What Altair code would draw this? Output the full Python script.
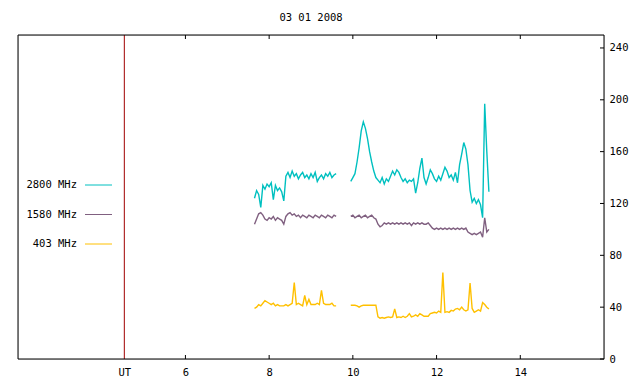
import altair as alt
import pandas as pd

# time axis (UT hours) of the two observing segments
t_seg1 = [7.65, 7.70, 7.75, 7.80, 7.85, 7.90, 7.95, 8.00, 8.05, 8.10,
          8.15, 8.20, 8.25, 8.30, 8.35, 8.40, 8.45, 8.50, 8.55, 8.60,
          8.65, 8.70, 8.75, 8.80, 8.85, 8.90, 8.95, 9.00, 9.05, 9.10,
          9.15, 9.20, 9.25, 9.30, 9.35, 9.40, 9.45, 9.50, 9.55, 9.60]
t_seg2 = [9.95, 10.00, 10.05, 10.10, 10.15, 10.20, 10.25, 10.30, 10.35, 10.40,
          10.45, 10.50, 10.55, 10.60, 10.65, 10.70, 10.75, 10.80, 10.85, 10.90,
          10.95, 11.00, 11.05, 11.10, 11.15, 11.20, 11.25, 11.30, 11.35, 11.40,
          11.45, 11.50, 11.55, 11.60, 11.65, 11.70, 11.75, 11.80, 11.85, 11.90,
          11.95, 12.00, 12.05, 12.10, 12.15, 12.20, 12.25, 12.30, 12.35, 12.40,
          12.45, 12.50, 12.55, 12.60, 12.65, 12.70, 12.75, 12.80, 12.85, 12.90,
          12.95, 13.00, 13.05, 13.10, 13.15, 13.20, 13.25]

f2800_seg1 = [124, 130, 127, 117, 134, 131, 135, 133, 136, 123,
              134, 130, 132, 129, 122, 141, 144, 140, 145, 141,
              143, 139, 142, 144, 140, 142, 139, 143, 140, 144,
              137, 140, 142, 139, 143, 141, 144, 140, 142, 143]
f2800_seg2 = [137, 140, 143, 152, 163, 176, 183, 178, 170, 160,
              152, 145, 140, 138, 136, 140, 135, 139, 137, 141,
              145, 142, 146, 144, 140, 137, 139, 136, 138, 137,
              139, 128, 136, 147, 155, 140, 135, 140, 146, 143,
              139, 137, 141, 138, 143, 148, 145, 140, 142, 138,
              144, 136, 150, 158, 167, 162, 150, 130, 121, 124,
              120, 123, 119, 109, 197, 160, 129]

f1580_seg1 = [104, 108, 112, 113, 111, 108, 107, 109, 108, 110,
              107, 109, 108, 107, 104, 110, 112, 113, 111, 112,
              110, 111, 109, 111, 110, 109, 111, 110, 109, 111,
              110, 109, 111, 110, 109, 111, 110, 109, 111, 110]
f1580_seg2 = [110, 111, 109, 110, 111, 109, 110, 111, 109, 110,
              111, 109, 108, 104, 102, 103, 105, 104, 105, 104,
              105, 104, 105, 104, 105, 104, 105, 104, 105, 103,
              105, 104, 105, 104, 105, 104, 104, 105, 103, 101,
              100, 101, 100, 101, 100, 101, 100, 101, 100, 101,
              100, 101, 100, 101, 100, 101, 98, 97, 96, 97,
              96, 97, 98, 94, 109, 98, 100]

f403_seg1 = [39, 40, 42, 41, 43, 45, 44, 43, 42, 43,
             41, 42, 41, 41, 41, 42, 41, 42, 43, 59,
             42, 43, 42, 41, 49, 42, 46, 42, 42, 42,
             43, 42, 53, 43, 42, 42, 42, 43, 41, 41]
f403_seg2 = [41.5, 41.5, 41.5, 41, 40, 41, 41.5, 41.5, 41.5, 41.5,
             41.5, 41.5, 41.5, 32.5, 31.5, 32, 31.5, 32, 32.5, 32,
             32.5, 38.7, 32, 32.5, 32, 33, 32, 33, 35, 32.5,
             33, 34, 33, 35, 34, 33, 33, 33, 35, 35.5,
             36, 35.5, 37, 36, 66.8, 36, 36.5, 36, 37.5, 37,
             38.5, 39, 38, 40, 38, 37, 38, 58.6, 39, 36,
             37, 38, 37, 43.5, 42, 40, 38.5]

series_names = ["2800 MHz", "1580 MHz", "403 MHz"]
series_colors = ["#00c0c0", "#806080", "#ffc000"]
x_ticks = [6, 8, 10, 12, 14]
y_ticks = [0, 40, 80, 120, 160, 200, 240]
ut_marker = [4.54]

rows = []
for name, s1, s2 in [("2800 MHz", f2800_seg1, f2800_seg2),
                     ("1580 MHz", f1580_seg1, f1580_seg2),
                     ("403 MHz", f403_seg1, f403_seg2)]:
    for t, v in zip(t_seg1, s1):
        rows.append({"t": t, "v": v, "series": name, "seg": 1})
    for t, v in zip(t_seg2, s2):
        rows.append({"t": t, "v": v, "series": name, "seg": 2})
df = pd.DataFrame(rows)

FONT = "DejaVu Sans Mono"
FS = 10.5
W, H = 586, 324

xscale = alt.Scale(domain=[2, 16], nice=False, zero=False)
yscale = alt.Scale(domain=[0, 250], nice=False, zero=True)

lines = alt.Chart(df).mark_line(strokeWidth=1.4, interpolate="linear").encode(
    x=alt.X("t:Q", scale=xscale,
            axis=alt.Axis(values=ut_marker + x_ticks,
                          labelExpr="datum.value < 5 ? 'UT' : datum.label",
                          ticks=False, domain=False, grid=False, title=None,
                          labelPadding=8, labelFont=FONT, labelFontSize=FS,
                          labelColor="black", labelOverlap=False, labelFlush=False)),
    y=alt.Y("v:Q", scale=yscale,
            axis=alt.Axis(orient="right", values=y_ticks, ticks=False, domain=False,
                          grid=False, title=None, labelPadding=5, labelFont=FONT,
                          labelFontSize=FS, labelColor="black")),
    color=alt.Color("series:N", scale=alt.Scale(domain=series_names, range=series_colors),
                    legend=None),
    detail="seg:N",
)

ut_df = pd.DataFrame({"t": ut_marker})
ut_line = alt.Chart(ut_df).mark_rule(color="#a00000", strokeWidth=1).encode(
    x=alt.X("t:Q", scale=xscale)
)

xt_df = pd.DataFrame({"t": x_ticks})
xt_bottom = alt.Chart(xt_df).mark_rule(color="black").encode(
    x=alt.X("t:Q", scale=xscale), y=alt.value(H), y2=alt.value(H - 4))
xt_top = alt.Chart(xt_df).mark_rule(color="black").encode(
    x=alt.X("t:Q", scale=xscale), y=alt.value(0), y2=alt.value(4))

yt_df = pd.DataFrame({"v": y_ticks})
yt_right = alt.Chart(yt_df).mark_rule(color="black").encode(
    y=alt.Y("v:Q", scale=yscale), x=alt.value(W - 4), x2=alt.value(W))

# plot frame
frame_df = pd.DataFrame({"side": ["frame"]})
frame = [
    alt.Chart(frame_df).mark_rule(color="black").encode(x=alt.value(0), x2=alt.value(W), y=alt.value(0)),
    alt.Chart(frame_df).mark_rule(color="black").encode(x=alt.value(0), x2=alt.value(W), y=alt.value(H)),
    alt.Chart(frame_df).mark_rule(color="black").encode(y=alt.value(0), y2=alt.value(H), x=alt.value(0)),
    alt.Chart(frame_df).mark_rule(color="black").encode(y=alt.value(0), y2=alt.value(H), x=alt.value(W)),
]

legend_layers = []
legend_y = [150, 179.5, 209]
for name, col, ly in zip(series_names, series_colors, legend_y):
    legend_layers.append(
        alt.Chart(pd.DataFrame({"label": [name]})).mark_text(
            align="right", baseline="middle", font=FONT, fontSize=FS, color="black"
        ).encode(text="label:N", x=alt.value(59), y=alt.value(ly))
    )
    legend_layers.append(
        alt.Chart(pd.DataFrame({"label": [name]})).mark_rule(color=col, strokeWidth=1).encode(
            x=alt.value(67), x2=alt.value(94), y=alt.value(ly)
        )
    )

chart = alt.layer(ut_line, lines, xt_bottom, xt_top, yt_right, *frame, *legend_layers).properties(
    width=W, height=H,
    title=alt.TitleParams("03 01 2008", font=FONT, fontSize=FS, fontWeight="normal",
                          color="black", anchor="middle", offset=11),
    padding={"left": 10, "top": 27, "right": 28, "bottom": 20},
    autosize="none",
).configure_view(strokeWidth=0).configure(background="white")

chart.save("out.html", embed_options={"renderer": "svg", "actions": False})
